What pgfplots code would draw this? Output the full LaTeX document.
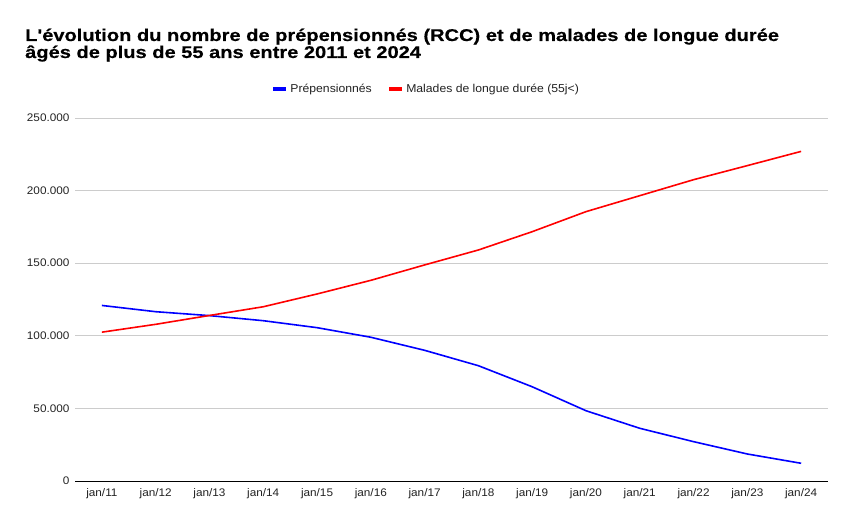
\documentclass[border=0pt]{standalone}
\usepackage{fontspec}
\setmainfont{Liberation Sans}[FakeStretch=1.07]
\newfontfamily\titlefont{Liberation Sans}[FakeStretch=1.18, BoldFeatures={FakeBold=0.4}]
\usepackage{pgfplots}
\pgfplotsset{compat=1.18}

\definecolor{gridgray}{HTML}{CCCCCC}
\definecolor{ticktext}{HTML}{222222}

\begin{document}
\begin{tikzpicture}
\useasboundingbox (0,0) rectangle (852bp,525bp);
\node[anchor=base west, inner sep=0pt, font=\titlefont\fontsize{17bp}{18bp}\selectfont\bfseries]
  at (25bp,484bp) {L'évolution du nombre de prépensionnés (RCC) et de malades de longue durée};
\node[anchor=base west, inner sep=0pt, font=\titlefont\fontsize{17bp}{18bp}\selectfont\bfseries]
  at (25bp,467bp) {âgés de plus de 55 ans entre 2011 et 2024};
\begin{axis}[
    at={(75bp,44bp)}, anchor=south west,
    scale only axis,
    width=753bp, height=363bp,
    xmin=-0.5, xmax=13.5,
    ymin=0, ymax=250000,
    xtick={0,...,13},
    xticklabels={jan/11,jan/12,jan/13,jan/14,jan/15,jan/16,jan/17,jan/18,jan/19,jan/20,jan/21,jan/22,jan/23,jan/24},
    ytick={0,50000,100000,150000,200000,250000},
    scaled y ticks=false,
    /pgf/number format/.cd, fixed, 1000 sep={.}, assume math mode=true,
    /pgfplots/.cd,
    tick label style={font=\fontsize{11bp}{13bp}\selectfont, text=ticktext},
    yticklabel style={anchor=east, xshift=-2bp},
    xticklabel style={anchor=north, yshift=-4bp},
    major tick length=0pt,
    axis x line*=bottom,
    axis y line*=left,
    x axis line style={black, line width=0.8bp, -},
    y axis line style={draw=none},
    ymajorgrids,
    grid style={gridgray, line width=0.8bp},
    clip=false,
    legend columns=2,
    legend style={at={(axis description cs:0.466,1.08)}, anchor=center, draw=none,
      font=\fontsize{11.4bp}{13bp}\selectfont, text=ticktext,
      /tikz/every even column/.append style={column sep=13bp}},
    legend image code/.code={\draw[line width=4.5bp] (0bp,0bp) -- (13bp,0bp);},
]
\addplot[blue, line width=1.6bp] coordinates {
  (0,120900) (1,116600) (2,113900) (3,110400) (4,105600) (5,99000) (6,90000)
  (7,79400) (8,64900) (9,48400) (10,36300) (11,27100) (12,18600) (13,12200)
};
\addlegendentry{Prépensionnés}
\addplot[red, line width=1.6bp] coordinates {
  (0,102500) (1,107900) (2,114000) (3,120000) (4,128800) (5,138200) (6,148800)
  (7,159100) (8,171700) (9,185500) (10,196500) (11,207500) (12,217200) (13,227000)
};
\addlegendentry{Malades de longue durée (55j<)}
\end{axis}
\end{tikzpicture}
\end{document}
